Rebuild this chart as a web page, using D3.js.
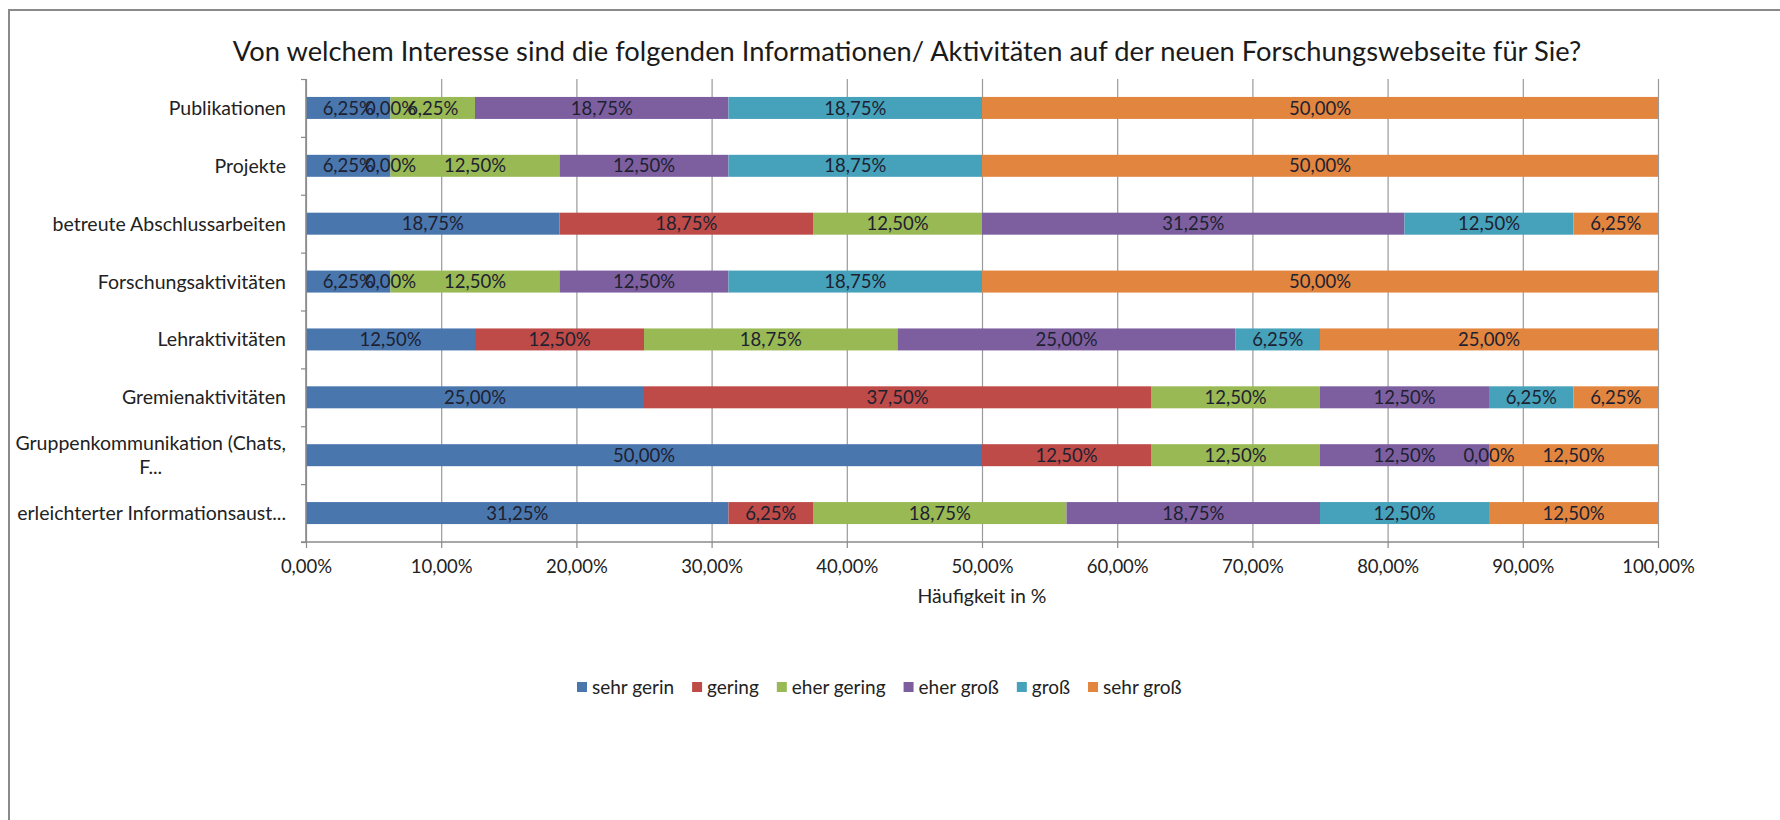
<!DOCTYPE html>
<html>
<head>
<meta charset="utf-8">
<script src="https://cdn.jsdelivr.net/npm/d3@7"></script>
<style>
  body { margin: 0; background: #fff; }
  svg text { font-family: Lato, "Open Sans", sans-serif; fill: #222; }
</style>
</head>
<body>
<svg id="chart"></svg>
<script>
// Kategorien (von oben nach unten)
var categories = [
    "Publikationen",
    "Projekte",
    "betreute Abschlussarbeiten",
    "Forschungsaktivitäten",
    "Lehraktivitäten",
    "Gremienaktivitäten",
    "Gruppenkommunikation (Chats,\nF...",
    "erleichterter Informationsaust..."
];

var seriesNames = ["sehr gerin", "gering", "eher gering", "eher groß", "groß", "sehr groß"];

// Werte in % je Kategorie
var sehrGerin  = [6.25, 6.25, 18.75, 6.25, 12.50, 25.00, 50.00, 31.25];
var gering     = [0.00, 0.00, 18.75, 0.00, 12.50, 37.50, 12.50, 6.25];
var eherGering = [6.25, 12.50, 12.50, 12.50, 18.75, 12.50, 12.50, 18.75];
var eherGross  = [18.75, 12.50, 31.25, 12.50, 25.00, 12.50, 12.50, 18.75];
var gross      = [18.75, 18.75, 12.50, 18.75, 6.25, 6.25, 0.00, 12.50];
var sehrGross  = [50.00, 50.00, 6.25, 50.00, 25.00, 6.25, 12.50, 12.50];

var xTicks = [0, 10, 20, 30, 40, 50, 60, 70, 80, 90, 100];

var seriesColors = ["#4A76AE", "#BE4B48", "#98B954", "#7D5FA0", "#46A1BA", "#E2853F"];

var width = 1780, height = 820;
var plot = { left: 306, right: 1658, top: 79, bottom: 542 };

var svg = d3.select("#chart")
    .attr("width", width)
    .attr("height", height);

// Rahmen (nur oben und links sichtbar)
svg.append("path")
    .attr("d", "M9,820 V10 H1780")
    .attr("fill", "none")
    .attr("stroke", "#8a8a8a")
    .attr("stroke-width", 2);

var allSeries = [sehrGerin, gering, eherGering, eherGross, gross, sehrGross];
var table = categories.map(function(c, i) {
    var row = { cat: c };
    seriesNames.forEach(function(s, j) { row[s] = allSeries[j][i]; });
    return row;
});

var stacked = d3.stack().keys(seriesNames)(table);

var x = d3.scaleLinear().domain([0, 100]).range([plot.left, plot.right]);
var y = d3.scaleBand().domain(categories)
    .range([plot.top, plot.bottom])
    .paddingInner(0.62)
    .paddingOuter(0.31);

var pct = function(v) { return d3.format(".2f")(v).replace(".", ",") + "%"; };

// Gitternetz
svg.append("g")
    .attr("transform", "translate(0," + plot.bottom + ")")
    .call(d3.axisBottom(x).tickValues(xTicks).tickSize(-(plot.bottom - plot.top)).tickFormat(""))
    .call(function(g) {
        g.select(".domain").remove();
        g.selectAll("line").attr("stroke", "#9a9a9a").attr("stroke-width", 1.2);
    });

// Balken
var layers = svg.append("g").selectAll("g")
    .data(stacked)
    .join("g")
    .attr("fill", function(d, i) { return seriesColors[i]; });

layers.selectAll("rect")
    .data(function(d) { return d; })
    .join("rect")
    .attr("x", function(d) { return x(d[0]); })
    .attr("y", function(d) { return y(d.data.cat); })
    .attr("width", function(d) { return x(d[1]) - x(d[0]); })
    .attr("height", y.bandwidth());

// Datenbeschriftungen
stacked.forEach(function(layer) {
    svg.append("g").selectAll("text")
        .data(layer)
        .join("text")
        .attr("x", function(d) { return x((d[0] + d[1]) / 2); })
        .attr("y", function(d) { return y(d.data.cat) + y.bandwidth() / 2; })
        .attr("dy", "0.36em")
        .attr("text-anchor", "middle")
        .style("font-size", "18.5px")
        .style("fill", "#1d2130")
        .text(function(d) { return pct(d[1] - d[0]); });
});

// x-Achse
svg.append("g")
    .attr("transform", "translate(0," + plot.bottom + ")")
    .call(d3.axisBottom(x).tickValues(xTicks).tickSize(6).tickPadding(12).tickFormat(pct))
    .call(function(g) {
        g.select(".domain").attr("d", "M" + (plot.left - 5) + ",0H" + plot.right)
            .attr("stroke", "#8a8a8a").attr("stroke-width", 1.6);
        g.selectAll("line").attr("stroke", "#8a8a8a").attr("stroke-width", 1.2);
        g.selectAll("text").style("font-size", "18.5px").style("fill", "#222");
    });

// y-Achse mit Teilstrichen zwischen den Kategorien
var yEdges = d3.scaleLinear().domain([0, categories.length]).range([plot.top, plot.bottom]);
svg.append("g")
    .attr("transform", "translate(" + plot.left + ",0)")
    .call(d3.axisLeft(yEdges).tickValues(d3.range(0, categories.length + 1)).tickSize(5).tickFormat(""))
    .call(function(g) {
        g.select(".domain").attr("d", "M0," + plot.top + "V" + plot.bottom)
            .attr("stroke", "#8a8a8a").attr("stroke-width", 1.6);
        g.selectAll("line").attr("stroke", "#8a8a8a").attr("stroke-width", 1.2);
    });

// Kategorienbeschriftungen
var labelRight = plot.left - 20;
categories.forEach(function(c) {
    var lines = c.split("\n");
    var cy = y(c) + y.bandwidth() / 2;
    var lh = 24;
    var t0 = null;
    lines.forEach(function(line, k) {
        var t = svg.append("text")
            .attr("y", cy + (k - (lines.length - 1) / 2) * lh)
            .attr("dy", "0.36em")
            .style("font-size", "19.5px")
            .text(line);
        if (k === 0) {
            t.attr("x", labelRight).attr("text-anchor", "end");
            t0 = t;
        } else {
            var w0 = t0.node().getComputedTextLength();
            t.attr("x", labelRight - w0 / 2).attr("text-anchor", "middle");
        }
    });
});

// Titel
svg.append("text")
    .attr("x", 907)
    .attr("y", 51)
    .attr("dy", "0.36em")
    .attr("text-anchor", "middle")
    .style("font-size", "27.3px")
    .style("fill", "#1a1a1a")
    .text("Von welchem Interesse sind die folgenden Informationen/ Aktivitäten auf der neuen Forschungswebseite für Sie?");

// Achsentitel
svg.append("text")
    .attr("x", (plot.left + plot.right) / 2)
    .attr("y", 596)
    .attr("dy", "0.36em")
    .attr("text-anchor", "middle")
    .style("font-size", "19.5px")
    .text("Häufigkeit in %");

// Legende
var legend = svg.append("g").attr("transform", "translate(577,687)");
var lx = 0;
seriesNames.forEach(function(s, i) {
    var item = legend.append("g").attr("transform", "translate(" + lx + ",0)");
    item.append("rect")
        .attr("x", 0).attr("y", -5)
        .attr("width", 10).attr("height", 10)
        .attr("fill", seriesColors[i]);
    var t = item.append("text")
        .attr("x", 15)
        .attr("dy", "0.36em")
        .style("font-size", "19px")
        .text(s);
    lx += 15 + t.node().getComputedTextLength() + 18;
});
</script>
</body>
</html>
